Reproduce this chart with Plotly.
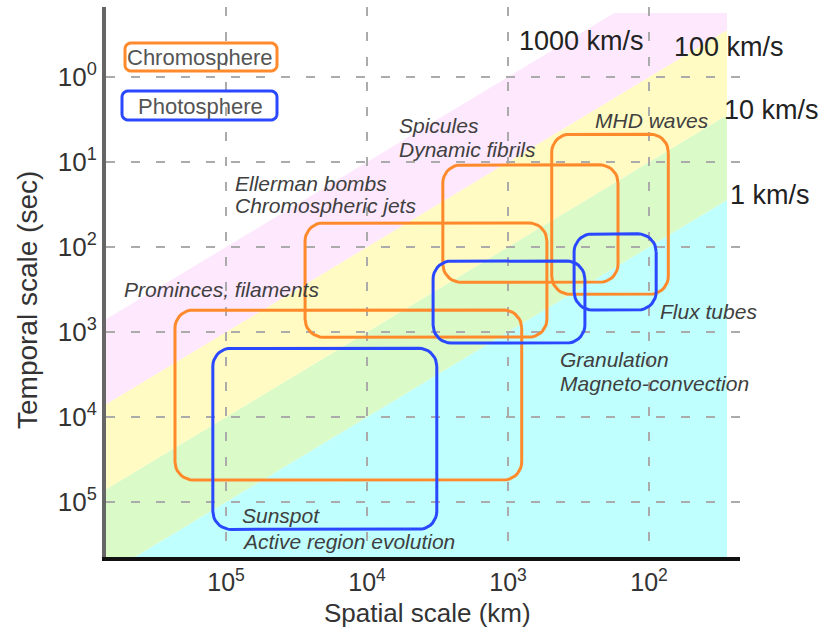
import numpy as np
import plotly.graph_objects as go

# Chromospheric phenomena: spatial range (km) and temporal range (s)
chromo_names = ["Prominces, filaments", "Ellerman bombs", "Spicules", "MHD waves"]
chromo_L_max = [2.3e5, 2.75e4, 2.9e3, 4.9e2]
chromo_L_min = [8.0e2, 5.3e2, 1.66e2, 73]
chromo_T_min = [5.5e2, 52, 10.8, 4.7]
chromo_T_max = [5.5e4, 1.15e3, 2.6e2, 3.6e2]

# Photospheric phenomena
photo_names = ["Sunspot", "Granulation", "Flux tubes"]
photo_L_max = [1.24e5, 3.4e3, 3.4e2]
photo_L_min = [3.2e3, 2.85e2, 89]
photo_T_min = [1.55e3, 1.46e2, 70]
photo_T_max = [2.1e5, 1.35e3, 5.5e2]

# Characteristic speed bands (km/s)
speed_edges = [1, 10, 100, 1000]
speed_labels = ["1 km/s", "10 km/s", "100 km/s", "1000 km/s"]
band_colors = ["#BFFFFE", "#DAFBC8", "#FFFBC2", "#FDE8FD"]

x_ticks = [1e5, 1e4, 1e3, 1e2]
x_ticktext = ["10<sup>5</sup>", "10<sup>4</sup>", "10<sup>3</sup>", "10<sup>2</sup>"]
y_ticks = [1e0, 1e1, 1e2, 1e3, 1e4, 1e5]
y_ticktext = ["10<sup>0</sup>", "10<sup>1</sup>", "10<sup>2</sup>",
              "10<sup>3</sup>", "10<sup>4</sup>", "10<sup>5</sup>"]

ORANGE = "#FF8A2C"
BLUE = "#2A48FF"
FONT = "Liberation Sans, Arial, sans-serif"

# axis ranges (log10 units); x and y both reversed
X_RANGE = [5.851, 1.355]
Y_RANGE = [5.647, -0.824]
# extent of the coloured speed bands (log10 units)
BAND_X = (1.447, 5.851)
BAND_Y = (-0.753, 5.647)


def clip(poly, f):
    out = []
    n = len(poly)
    for i in range(n):
        p, q = poly[i], poly[(i + 1) % n]
        fp, fq = f(p), f(q)
        if fp >= 0:
            out.append(p)
        if (fp >= 0) != (fq >= 0):
            t = fp / (fp - fq)
            out.append((p[0] + t * (q[0] - p[0]), p[1] + t * (q[1] - p[1])))
    return out


def band_path(v_lo, v_hi):
    box = [(BAND_X[0], BAND_Y[0]), (BAND_X[1], BAND_Y[0]),
           (BAND_X[1], BAND_Y[1]), (BAND_X[0], BAND_Y[1])]
    poly = box
    if v_lo is not None:
        lo = np.log10(v_lo)
        poly = clip(poly, lambda p: (p[0] - p[1]) - lo)
    if v_hi is not None:
        hi = np.log10(v_hi)
        poly = clip(poly, lambda p: hi - (p[0] - p[1]))
    pts = ["{:.6f},{:.6f}".format(10 ** x, 10 ** y) for x, y in poly]
    return "M" + " L".join(pts) + " Z"


def rounded_box(L_lo, L_hi, T_lo, T_hi, rx=0.128, ry=0.212, n=10):
    x0, x1 = np.log10(L_lo), np.log10(L_hi)
    y0, y1 = np.log10(T_lo), np.log10(T_hi)
    centers = [(x0 + rx, y0 + ry, 180), (x1 - rx, y0 + ry, 270),
               (x1 - rx, y1 - ry, 0), (x0 + rx, y1 - ry, 90)]
    xs, ys = [], []
    for cx, cy, a0 in centers:
        for a in np.radians(np.linspace(a0, a0 + 90, n)):
            xs.append(cx + rx * np.cos(a))
            ys.append(cy + ry * np.sin(a))
    xs.append(xs[0])
    ys.append(ys[0])
    return 10 ** np.array(xs), 10 ** np.array(ys)


fig = go.Figure()

# speed bands drawn beneath the grid
edges = [None] + speed_edges
shapes = []
for i, col in enumerate(band_colors):
    shapes.append(dict(type="path", xref="x", yref="y", layer="below",
                       path=band_path(edges[i], edges[i + 1]),
                       fillcolor=col, line=dict(width=0)))

for names, Lmin, Lmax, Tmin, Tmax, col in [
        (chromo_names, chromo_L_min, chromo_L_max, chromo_T_min, chromo_T_max, ORANGE),
        (photo_names, photo_L_min, photo_L_max, photo_T_min, photo_T_max, BLUE)]:
    for nm, a, b, c, d in zip(names, Lmin, Lmax, Tmin, Tmax):
        xs, ys = rounded_box(a, b, c, d)
        fig.add_trace(go.Scatter(x=xs, y=ys, mode="lines", name=nm,
                                 line=dict(color=col, width=3),
                                 hoverinfo="skip", showlegend=False))

# legend-like labelled boxes (paper coordinates from plot-area pixels)
PL, PT, PW, PH = 106, 7, 634, 550


def px2paper(px, py):
    return (px - PL) / PW, (PT + PH - py) / PH


def rounded_paper_path(x0, y0, x1, y1, r=6, n=6):
    pts = []
    for cx, cy, a0 in [(x0 + r, y0 + r, 180), (x1 - r, y0 + r, 270),
                       (x1 - r, y1 - r, 0), (x0 + r, y1 - r, 90)]:
        for a in np.radians(np.linspace(a0, a0 + 90, n)):
            pts.append(px2paper(cx + r * np.cos(a), cy + r * np.sin(a)))
    return "M" + " L".join("{:.5f},{:.5f}".format(*p) for p in pts) + " Z"


shapes.append(dict(type="path", xref="paper", yref="paper",
                   path=rounded_paper_path(125, 43, 277, 71),
                   line=dict(color=ORANGE, width=3)))
shapes.append(dict(type="path", xref="paper", yref="paper",
                   path=rounded_paper_path(122, 91, 277, 120),
                   line=dict(color=BLUE, width=3)))

annotations = []
for txt, py in [("Chromosphere", 57), ("Photosphere", 106)]:
    xp, yp = px2paper(200, py)
    annotations.append(dict(text=txt, x=xp, y=yp, xref="paper", yref="paper",
                            showarrow=False, xanchor="center", yanchor="middle",
                            font=dict(family=FONT, size=22, color="#555555")))

# phenomenon labels (log10 positions)
label_pos = [
    ("Spicules", 3.787, 0.576),
    ("Dynamic fibrils", 3.787, 0.847),
    ("Ellerman bombs", 4.950, 1.247),
    ("Chromospheric jets", 4.950, 1.506),
    ("Prominces, filaments", 5.738, 2.494),
    ("MHD waves", 2.397, 0.506),
    ("Flux tubes", 1.936, 2.753),
    ("Granulation", 2.645, 3.329),
    ("Magneto-convection", 2.645, 3.600),
    ("Sunspot", 4.901, 5.153),
    ("Active region evolution", 4.901, 5.459),
]
for txt, x, y in label_pos:
    annotations.append(dict(text=txt, x=x, y=y, xref="x", yref="y",
                            showarrow=False, xanchor="left", yanchor="middle",
                            font=dict(family=FONT, size=21, color="#404040",
                                      style="italic")))

speed_pos = [(1.440, 1.388), (1.482, 0.388), (1.837, -0.353), (2.936, -0.424)]
for txt, (x, y) in zip(speed_labels, speed_pos):
    annotations.append(dict(text=txt, x=x, y=y, xref="x", yref="y",
                            showarrow=False, xanchor="left", yanchor="middle",
                            font=dict(family=FONT, size=27, color="#222222")))

# axis titles
xp, yp = px2paper(428, 613)
annotations.append(dict(text="Spatial scale (km)", x=xp, y=yp, xref="paper",
                        yref="paper", showarrow=False, xanchor="center",
                        yanchor="middle",
                        font=dict(family=FONT, size=26, color="#333333")))
xp, yp = px2paper(27, 300)
annotations.append(dict(text="Temporal scale (sec)", x=xp, y=yp, xref="paper",
                        yref="paper", showarrow=False, xanchor="center",
                        yanchor="middle", textangle=-90,
                        font=dict(family=FONT, size=28, color="#333333")))

fig.update_layout(
    width=820, height=627,
    margin=dict(l=PL, r=820 - PL - PW, t=PT, b=627 - PT - PH),
    paper_bgcolor="white", plot_bgcolor="white",
    shapes=shapes, annotations=annotations, showlegend=False,
    font=dict(family=FONT),
)
grid = dict(showgrid=True, gridcolor="#ABABAB", gridwidth=2, griddash="9px,16px",
            zeroline=False, ticks="", showline=True, linewidth=4)
fig.update_xaxes(type="log", range=X_RANGE, tickvals=x_ticks, ticktext=x_ticktext,
                 linecolor="#111111",
                 tickfont=dict(family=FONT, size=25, color="#333333"), **grid)
fig.update_yaxes(type="log", range=Y_RANGE, tickvals=y_ticks, ticktext=y_ticktext,
                 linecolor="#666666",
                 tickfont=dict(family=FONT, size=26, color="#333333"), **grid)

fig.write_html("out.html")
